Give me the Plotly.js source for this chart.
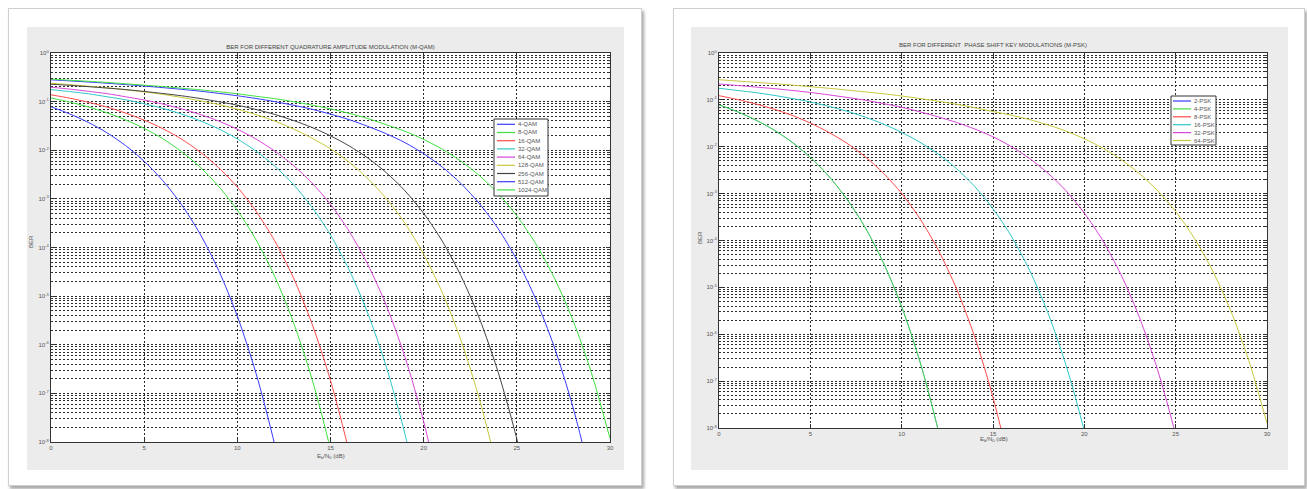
<!DOCTYPE html>
<html><head><meta charset="utf-8">
<script src="https://cdn.plot.ly/plotly-3.0.1.min.js"></script>
<style>
body{margin:0;background:#fff;width:1307px;height:489px;overflow:hidden;position:relative;font-family:"Liberation Sans",Arial,sans-serif}
.frame{position:absolute;background:#fff;border:1px solid #cfcfcf;box-shadow:2px 3px 3px rgba(0,0,0,0.35);box-sizing:border-box}
.plot{position:absolute}
</style></head><body>
<div class="frame" style="left:8px;top:8px;width:634px;height:478px"></div>
<div class="frame" style="left:673px;top:8px;width:632px;height:478px"></div>
<div id="qam" class="plot" style="left:27px;top:27px;width:597px;height:443px"></div>
<div id="psk" class="plot" style="left:691px;top:27px;width:597px;height:443px"></div>
<script>
// ---- data (BER, Eb/N0 in dB) ----
const ebnoDb = [0,1,2,3,4,5,6,7,8,9,10,11,12,13,14,15,16,17,18,19,20,21,22,23,24,25,26,27,28,29,30];

const qamLabels = ['4-QAM','8-QAM','16-QAM','32-QAM','64-QAM','128-QAM','256-QAM','512-QAM','1024-QAM'];
const ber4QAM = [7.85e-2,5.60e-2,3.74e-2,2.29e-2,1.25e-2,5.94e-3,2.37e-3,7.67e-4,1.90e-4,3.36e-5,3.86e-6,2.61e-7,8.95e-9,1.33e-10];
const ber8QAM = [1.19e-1,9.77e-2,7.80e-2,5.89e-2,4.22e-2,2.82e-2,1.73e-2,9.42e-3,4.50e-3,1.80e-3,5.83e-4,1.45e-4,2.57e-5,2.96e-6,2.02e-7,7.00e-9,1.08e-10];
const ber16QAM = [1.38e-1,1.18e-1,9.71e-2,7.74e-2,5.82e-2,4.16e-2,2.78e-2,1.70e-2,9.23e-3,4.38e-3,1.75e-3,5.60e-4,1.38e-4,2.43e-5,2.75e-6,1.84e-7,6.19e-9,9.0e-11];
const ber32QAM = [1.77e-1,1.61e-1,1.45e-1,1.26e-1,1.09e-1,9.02e-2,7.26e-2,5.55e-2,4.04e-2,2.75e-2,1.71e-2,9.62e-3,4.75e-3,2.00e-3,6.79e-4,1.81e-4,3.47e-5,4.45e-6,3.45e-7,1.44e-8,2.63e-10];
const ber64QAM = [1.98e-1,1.81e-1,1.63e-1,1.46e-1,1.26e-1,1.08e-1,8.91e-2,7.13e-2,5.45e-2,3.98e-2,2.70e-2,1.70e-2,9.66e-3,4.91e-3,2.14e-3,7.73e-4,2.16e-4,4.48e-5,6.35e-6,5.53e-7,2.62e-8,5.83e-10];
const ber128QAM = [2.39e-1,2.24e-1,2.08e-1,1.93e-1,1.75e-1,1.58e-1,1.41e-1,1.22e-1,1.04e-1,8.71e-2,6.98e-2,5.42e-2,3.99e-2,2.76e-2,1.78e-2,1.07e-2,5.69e-3,2.62e-3,1.01e-3,3.13e-4,7.24e-5,1.18e-5,1.24e-6,7.41e-8,2.22e-9,2.75e-11];
const ber256QAM = [2.28e-1,2.16e-1,2.03e-1,1.90e-1,1.77e-1,1.62e-1,1.47e-1,1.32e-1,1.16e-1,9.98e-2,8.45e-2,6.89e-2,5.46e-2,4.11e-2,2.95e-2,1.98e-2,1.23e-2,6.95e-3,3.45e-3,1.46e-3,5.02e-4,1.35e-4,2.61e-5,3.42e-6,2.71e-7,1.15e-8,2.17e-10];
const ber512QAM = [2.81e-1,2.67e-1,2.53e-1,2.39e-1,2.24e-1,2.09e-1,1.94e-1,1.79e-1,1.64e-1,1.48e-1,1.32e-1,1.16e-1,1.00e-1,8.45e-2,6.98e-2,5.53e-2,4.26e-2,3.10e-2,2.18e-2,1.43e-2,8.49e-3,4.51e-3,2.07e-3,7.91e-4,2.43e-4,5.56e-5,8.95e-6,9.18e-7,5.40e-8,1.56e-9,1.82e-11];
const ber1024QAM = [2.90e-1,2.76e-1,2.62e-1,2.48e-1,2.33e-1,2.18e-1,2.04e-1,1.89e-1,1.75e-1,1.60e-1,1.45e-1,1.29e-1,1.15e-1,1.00e-1,8.49e-2,7.11e-2,5.74e-2,4.49e-2,3.34e-2,2.45e-2,1.67e-2,1.05e-2,5.97e-3,2.99e-3,1.28e-3,4.48e-4,1.22e-4,2.42e-5,3.26e-6,2.67e-7,1.18e-8];

const pskLabels = ['2-PSK','4-PSK','8-PSK','16-PSK','32-PSK','64-PSK'];
const ber2PSK = [7.85e-2,5.60e-2,3.74e-2,2.29e-2,1.25e-2,5.94e-3,2.37e-3,7.67e-4,1.90e-4,3.36e-5,3.86e-6,2.61e-7,8.95e-9,1.33e-10];
const ber4PSK = [7.85e-2,5.60e-2,3.74e-2,2.29e-2,1.25e-2,5.94e-3,2.37e-3,7.67e-4,1.90e-4,3.36e-5,3.86e-6,2.61e-7,8.95e-9,1.33e-10];
const ber8PSK = [1.23e-1,1.02e-1,8.22e-2,6.34e-2,4.68e-2,3.20e-2,2.04e-2,1.19e-2,6.14e-3,2.73e-3,1.01e-3,2.92e-4,6.31e-5,9.38e-6,8.73e-7,4.50e-8,1.10e-9,1.07e-11];
const ber16PSK = [1.77e-1,1.59e-1,1.43e-1,1.25e-1,1.07e-1,9.04e-2,7.29e-2,5.74e-2,4.29e-2,3.05e-2,2.02e-2,1.25e-2,6.98e-3,3.41e-3,1.42e-3,4.75e-4,1.24e-4,2.32e-5,2.90e-6,2.17e-7,8.59e-9,1.49e-10];
const ber32PSK = [2.18e-1,2.03e-1,1.88e-1,1.74e-1,1.59e-1,1.44e-1,1.28e-1,1.13e-1,9.84e-2,8.34e-2,6.95e-2,5.56e-2,4.34e-2,3.30e-2,2.39e-2,1.63e-2,1.01e-2,5.61e-3,2.75e-3,1.15e-3,3.85e-4,1.01e-4,1.89e-5,2.38e-6,1.79e-7,7.11e-9,1.24e-10];
const ber64PSK = [2.69e-1,2.53e-1,2.37e-1,2.22e-1,2.07e-1,1.91e-1,1.77e-1,1.62e-1,1.48e-1,1.35e-1,1.21e-1,1.07e-1,9.35e-2,8.09e-2,6.81e-2,5.64e-2,4.71e-2,3.80e-2,2.93e-2,2.16e-2,1.48e-2,9.38e-3,5.36e-3,2.70e-3,1.17e-3,4.17e-4,1.15e-4,2.35e-5,3.26e-6,2.77e-7,1.27e-8];

const xTickVals = [0,5,10,15,20,25,30];
const xTickText = ['0','5','10','15','20','25','30'];
const yTickVals = [1,1e-1,1e-2,1e-3,1e-4,1e-5,1e-6,1e-7,1e-8];
const yTickText = ['10<sup>0</sup>','10<sup>-1</sup>','10<sup>-2</sup>','10<sup>-3</sup>','10<sup>-4</sup>','10<sup>-5</sup>','10<sup>-6</sup>','10<sup>-7</sup>','10<sup>-8</sup>'];

// ---- styling ----
const qamColors = ['#3a3aff','#3ee03e','#ff4a4a','#2ec8c8','#d846d8','#c8c83c','#444444','#3a3aff','#3ee03e'];
const pskColors = ['#3a3aff','#3ee03e','#ff4a4a','#2ec8c8','#d846d8','#c8c83c'];
const FONT = '"Liberation Sans", Arial, sans-serif';
const GRID = '#2a2a2a';
const FS = 6;

const minorVals = [];
for (let e = -8; e < 0; e++) for (let d = 2; d <= 9; d++) minorVals.push(d * Math.pow(10, e));

function traces(series, labels, colors, widths) {
  return series.map((s, i) => ({
    type: 'scatter', mode: 'lines', name: labels[i],
    x: ebnoDb.slice(0, s.length), y: s,
    line: {color: colors[i], width: widths ? widths[i] : 1, shape: 'spline', smoothing: 0.8},
    showlegend: false, hoverinfo: 'x+y+name'
  }));
}

function legend(labels, colors, box, plotW, plotH) {
  const px = v => v / plotW, py = v => 1 - v / plotH;
  const shapes = [{type:'rect', xref:'paper', yref:'paper', x0:px(box.x0), x1:px(box.x1), y0:py(box.y1), y1:py(box.y0),
    fillcolor:'#ffffff', line:{color:'#333', width:1}, layer:'above'}];
  const anns = [];
  labels.forEach((lab, i) => {
    const y = box.row0 + i * box.dy;
    shapes.push({type:'line', xref:'paper', yref:'paper', x0:px(box.lx0), x1:px(box.lx1), y0:py(y), y1:py(y),
      line:{color:colors[i], width:1.2}, layer:'above'});
    anns.push({xref:'paper', yref:'paper', x:px(box.tx), y:py(y), text:lab, showarrow:false,
      xanchor:'left', yanchor:'middle', font:{size:FS, color:'#555', family:FONT}});
  });
  return {shapes, anns};
}

function layout(title, titleY, margin, plotW, plotH, lg, xlab, ylab) {
  const axisCommon = {
    showline:true, linecolor:'#333', linewidth:1, mirror:'ticks', ticks:'inside', ticklen:4, tickcolor:'#333',
    showgrid:true, gridcolor:GRID, griddash:'2px,2px', gridwidth:1, zeroline:false,
    tickfont:{size:FS, color:'#555', family:FONT}, automargin:false, fixedrange:true
  };
  return {
    width:597, height:443, margin:margin, autosize:false,
    paper_bgcolor:'#ececec', plot_bgcolor:'#ffffff', showlegend:false,
    font:{family:FONT, color:'#555', size:FS},
    title:{text:title, font:{size:FS, color:'#444', family:FONT}, x:(margin.l + plotW/2)/597, xanchor:'center',
      y:titleY, yref:'container', yanchor:'middle'},
    xaxis: Object.assign({}, axisCommon, {range:[0,30], tickmode:'array', tickvals:xTickVals, ticktext:xTickText}),
    yaxis: Object.assign({}, axisCommon, {type:'log', range:[-8,0], tickmode:'array', tickvals:yTickVals, ticktext:yTickText,
      minor:{tickmode:'array', tickvals:minorVals, showgrid:true, gridcolor:GRID, griddash:'2px,2px', gridwidth:1,
        ticks:'inside', ticklen:2, tickcolor:'#333'}}),
    shapes: lg.shapes,
    annotations: lg.anns.concat([
      {xref:'paper', yref:'paper', x:xlab.x, y:0, yshift:xlab.dy, text:'E<sub>b</sub>/N<sub>0</sub> (dB)', showarrow:false,
        xanchor:'center', yanchor:'middle', font:{size:FS, color:'#555', family:FONT}},
      {xref:'paper', yref:'paper', x:0, xshift:ylab.dx, y:ylab.y, text:'BER', textangle:-90, showarrow:false,
        xanchor:'center', yanchor:'middle', font:{size:FS, color:'#555', family:FONT}}
    ])
  };
}

// QAM panel: plot area 559 x 389
const qW = 559, qH = 389;
const qLeg = legend(qamLabels, qamColors, {x0:443, x1:497, y0:66, y1:143, row0:71.3, dy:8.2, lx0:446, lx1:464, tx:465}, qW, qH);
Plotly.newPlot('qam',
  traces([ber4QAM,ber8QAM,ber16QAM,ber32QAM,ber64QAM,ber128QAM,ber256QAM,ber512QAM,ber1024QAM], qamLabels, qamColors),
  layout('BER FOR DIFFERENT QUADRATURE AMPLITUDE MODULATION (M-QAM)', 1 - 20/443, {l:24, r:14, t:26, b:28}, qW, qH, qLeg,
    {x:(331-51)/qW, dy:-14}, {dx:-20, y:1-(242-53)/qH}),
  {staticPlot:true});

// PSK panel: plot area 548 x 375
const pW = 548, pH = 375;
const pLeg = legend(pskLabels, pskColors, {x0:452, x1:497, y0:43, y1:92, row0:48, dy:7.9, lx0:454, lx1:472, tx:473}, pW, pH);
Plotly.newPlot('psk',
  traces([ber2PSK,ber4PSK,ber8PSK,ber16PSK,ber32PSK,ber64PSK], pskLabels, pskColors, [0.6,1,1,1,1,1]),
  layout('BER FOR DIFFERENT  PHASE SHIFT KEY MODULATIONS (M-PSK)', 1 - 18/443, {l:28, r:21, t:26, b:42}, pW, pH, pLeg,
    {x:(994-719)/pW, dy:-11}, {dx:-19, y:1-(238-53)/pH}),
  {staticPlot:true});
</script>
</body></html>
